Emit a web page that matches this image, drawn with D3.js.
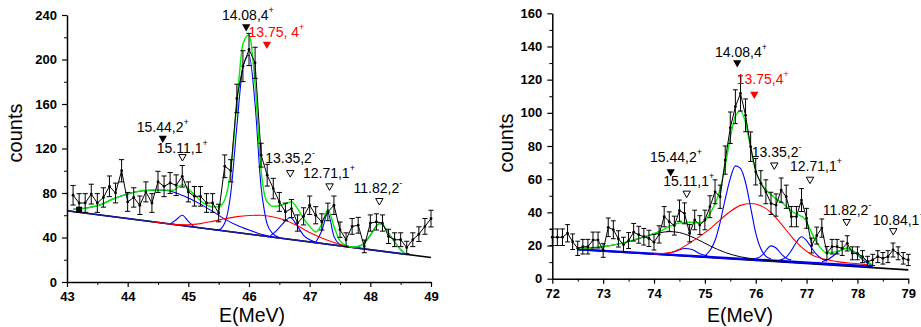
<!DOCTYPE html>
<html><head><meta charset="utf-8">
<script src="https://cdn.jsdelivr.net/npm/d3@7"></script>
<style>
body{margin:0;background:#fff}
svg{display:block}
text{font-family:Arial,"Liberation Sans",sans-serif}
</style>
</head><body>
<svg id="chart" width="921" height="327"></svg>
<script>
// ---------------- LEFT PANEL DATA ----------------
const leftE = [43.1,43.2,43.3,43.4,43.5,43.6,43.7,43.8,43.9,44.0,44.1,44.2,44.3,44.4,44.5,44.6,44.7,44.8,44.9,45.0,
  45.1,45.2,45.3,45.4,45.5,45.6,45.7,45.8,45.9,46.0,46.1,46.2,46.3,46.4,46.5,46.6,46.7,46.8,46.9,47.0,
  47.1,47.2,47.3,47.4,47.5,47.6,47.7,47.8,47.9,48.0,48.1,48.2,48.3,48.4,48.5,48.6,48.7,48.8,48.9,49.0];
const leftCounts = [78,71,71,79,71,76,86,80,100,72,76,69,81,71,90,86,89,87,95,81,
  77,77,71,71,62,104,100,165,194,209,197,114,96,84,72,63,66,53,59,69,
  60,54,63,69,47,38,50,51,32,53,54,53,41,38,38,31,38,43,50,57];
const leftErr = [8.8,8.4,8.4,8.9,8.4,8.7,9.3,8.9,10,8.5,8.7,8.3,9,8.4,9.5,9.3,9.4,9.3,9.7,9,
  8.8,8.8,8.4,8.4,7.9,10.2,10,12.8,13.9,14.5,14,10.7,9.8,9.2,8.5,7.9,8.1,7.3,7.7,8.3,
  7.7,7.3,7.9,8.3,6.9,6.2,7.1,7.1,5.7,7.3,7.3,7.3,6.4,6.2,6.2,5.6,6.2,6.6,7.1,7.5];
const leftBgBlack = [[43.0,64],[49.0,22]];
const leftBgBlue = [[43.0,64],[48.6,24.8]];
const leftGreen = [[43.1,65.4],[43.3,66.3],[43.5,68.5],[43.8,75.5],[44.1,80.6],[44.4,82.7],[44.6,82.7],[44.75,82.5],
  [44.9,87.5],[45.05,81],[45.25,71],[45.4,67.5],[45.5,67.5],[45.6,74],[45.7,101],[45.8,160],[45.9,214],[46.0,222],
  [46.1,178],[46.2,100],[46.25,80],[46.3,72],[46.4,68],[46.5,68.5],[46.6,70.5],[46.7,72],[46.8,66],[46.9,57],[47.0,50],
  [47.1,45],[47.2,52],[47.3,65],[47.4,50],[47.5,37],[47.6,33],[47.7,31.5],[47.8,31.8],[47.9,35],[48.0,42],[48.1,50],
  [48.15,52.5],[48.2,51.5],[48.3,44],[48.4,36],[48.5,29],[48.58,25.2]];
const leftRed = [[44.4,54.2],[44.6,52.8],[44.8,51.6],[45.0,51.5],[45.2,52.5],[45.4,54.5],[45.6,56.8],[45.8,58.8],[46.0,59.8],
  [46.2,60],[46.4,58.5],[46.6,55.5],[46.8,50.5],[47.0,44.5],[47.2,39.5],[47.4,35.5],[47.6,32.5],[47.8,30.6]];
const leftBlueBroad = [[43.1,65.4],[43.3,66.3],[43.5,68.5],[43.8,75.5],[44.1,80.6],[44.4,82.5],[44.6,82.5],[44.8,80],
  [45.0,75.5],[45.2,70],[45.4,63.5],[45.6,56.5],[45.8,51],[46.0,46.7],[46.2,43],[46.4,40.5]];
const leftBlue1 = [[44.7,52.1],[44.8,56],[44.9,60],[45.0,54.5],[45.1,49.3]];
const leftBlue2 = [[45.4,47.2],[45.5,47],[45.6,53],[45.7,80],[45.8,140],[45.9,193],[46.0,204],[46.1,160],[46.2,85],
  [46.25,65],[46.3,52],[46.4,43],[46.5,40]];
const leftBlue3 = [[46.35,41.5],[46.45,46],[46.55,52],[46.68,58],[46.8,50],[46.9,42],[47.0,38],[47.12,35.5]];
const leftBlue4 = [[47.1,35.5],[47.2,46],[47.3,62],[47.4,41],[47.5,33.5]];
const leftBlue5 = [[47.6,31.8],[47.7,31.2],[47.8,32],[47.9,35],[48.0,42],[48.1,50.5],[48.15,52.5],[48.2,51.5],
  [48.3,44],[48.4,36],[48.5,29],[48.58,25]];
const leftSquare = [[43.2,65]];
const leftYTicks = [0,40,80,120,160,200,240];
const leftYMinor = [20,60,100,140,180,220];
const leftXTicks = [43,44,45,46,47,48,49];
const leftXMinor = [43.5,44.5,45.5,46.5,47.5,48.5];
// label: text, superscript, text position, triangle position, marker kind
const leftLabels = ["14.08,4","13.75, 4","15.44,2","15.11,1","13.35,2","12.71,1","11.82,2"];
const leftSup = ["+","+","+","+","-","+","-"];
const leftLabelE = [45.553,45.992,44.150,44.480,46.267,46.889,47.724];
const leftLabelV = [235.5,220.5,135.1,116.2,106.7,93.2,79.7];
const leftTriE = [45.954,46.295,44.579,44.903,46.680,47.328,48.149];
const leftTriV = [229.5,213.7,129.2,112.6,98.2,86.3,73.1];
const leftKind = ["black","red","black","open","open","open","open"];

// ---------------- RIGHT PANEL DATA ----------------
const rightE = [72.0,72.1,72.2,72.3,72.4,72.5,72.6,72.7,72.8,72.9,73.0,73.1,73.2,73.3,73.4,73.5,73.6,73.7,73.8,73.9,
  74.0,74.1,74.2,74.3,74.4,74.5,74.6,74.7,74.8,74.9,75.0,75.1,75.2,75.3,75.4,75.5,75.6,75.7,75.8,75.9,
  76.0,76.1,76.2,76.3,76.4,76.5,76.6,76.7,76.8,76.9,77.0,77.1,77.2,77.3,77.4,77.5,77.6,77.7,77.8,77.9,
  78.0,78.1,78.2,78.3,78.4,78.5,78.6,78.7,78.8,78.9,79.0];
const rightCounts = [25,25,25,27.4,22.3,18.3,19.3,19.3,23.3,23.3,17,31,29.5,24,20.5,23,28,26.5,25.3,24.3,
  22,26.7,37.4,34.4,32,41,39.4,27.4,35.4,32.3,35.4,43.4,52.4,49.4,71.5,91,103.7,111.7,98.5,79.6,
  64.5,57.5,52.4,45.4,44.4,53.4,49.4,37.4,37.4,47.4,36.4,20,26,30.5,15.5,19.3,19.3,18.3,21.3,15.3,
  15.3,13.3,10.3,11.3,13.3,12.3,13.3,17.3,15.3,12.3,11.3];
const rightErr = [5,5,5,5.2,4.7,4.3,4.4,4.4,4.8,4.8,4.1,5.6,5.4,4.9,4.5,4.8,5.3,5.1,5,4.9,
  4.7,5.2,6.1,5.9,5.7,6.4,6.3,5.2,5.9,5.7,5.9,6.6,7.2,7,8.5,9.5,10.2,10.6,9.9,8.9,
  8,7.6,7.2,6.7,6.7,7.3,7,6.1,6.1,6.9,6,4.5,5.1,5.5,3.9,4.4,4.4,4.3,4.6,3.9,
  3.9,3.6,3.2,3.4,3.6,3.5,3.6,4.2,3.9,3.5,3.4];
const rightBgBlack = [[72.5,17.7],[79.0,5.3]];
const rightBgBlue = [[72.5,17.7],[78.3,7.4]];
const rightBlackBroad = [[72.5,18.3],[73.0,19.3],[73.3,20.9],[73.6,23.2],[73.9,26],[74.1,27.6],[74.3,28.4],[74.5,27.8],
  [74.8,24.5],[75.1,19.8],[75.4,15.8],[75.7,13.2],[76.0,11.8],[76.4,10.8],[76.8,10.1]];
const rightGreen = [[72.5,18.3],[72.8,18.8],[73.0,19.3],[73.3,21],[73.6,23.4],[73.9,26.3],[74.1,28.3],[74.3,31.5],
  [74.5,33.6],[74.7,34],[74.9,33.7],[75.0,35],[75.1,39.4],[75.2,45],[75.3,54],[75.4,68],[75.5,85],[75.6,98],
  [75.7,101],[75.8,94],[75.9,79],[76.0,65],[76.15,55.5],[76.35,49.4],[76.55,45],[76.75,39.8],[76.85,38.3],[76.95,36.5],
  [77.05,31],[77.15,24.5],[77.25,19.5],[77.4,15.5],[77.6,16.5],[77.8,18.5],[78.0,15],[78.2,10.3],[78.3,8.2]];
const rightRed = [[74.0,14.9],[74.3,15.6],[74.5,17.8],[74.7,21.5],[74.9,25.5],[75.1,30],[75.3,35.5],[75.5,40.5],
  [75.7,44.2],[75.9,45.3],[76.1,44],[76.3,40],[76.5,33],[76.7,25.5],[76.9,19],[77.1,14.5],[77.3,12.2],[77.6,10.3],
  [77.9,9.3],[78.2,8.5]];
const rightBlue1 = [[74.2,14.9],[74.4,16.2],[74.6,18.2],[74.75,17.6],[74.9,15],[75.05,13.8]];
const rightBlue2 = [[75.0,13.8],[75.1,17],[75.2,23],[75.3,34],[75.4,48],[75.5,60.5],[75.6,68],[75.7,66.5],[75.8,58],
  [75.9,43],[76.0,27.5],[76.1,18],[76.2,13.5],[76.3,12]];
const rightBlue3 = [[75.95,12],[76.05,12.6],[76.15,15],[76.3,19.8],[76.4,18.5],[76.5,15],[76.6,12.3],[76.7,11.2]];
const rightBlue4 = [[76.45,11],[76.6,13],[76.7,17],[76.8,22],[76.9,25.3],[77.0,23],[77.1,18.5],[77.2,14.5],[77.3,12],[77.4,10.5]];
const rightBlue5 = [[77.3,10.2],[77.4,11.2],[77.5,13.2],[77.6,15.8],[77.7,17.6],[77.8,18.3],[77.9,17],[78.0,14.5],
  [78.1,11.5],[78.2,9.3],[78.3,8]];
const rightYTicks = [0,20,40,60,80,100,120,140,160];
const rightYMinor = [10,30,50,70,90,110,130,150];
const rightXTicks = [72,73,74,75,76,77,78,79];
const rightXMinor = [72.5,73.5,74.5,75.5,76.5,77.5,78.5];
const rightLabels = ["14.08,4","13.75,4","15.44,2","15.11,1","13.35,2","12.71,1","11.82,2","10.84,1"];
const rightSup = ["+","+","+","+","-","+","-","+"];
const rightLabelE = [75.199,75.626,73.921,74.182,75.921,76.674,77.317,78.300];
const rightLabelV = [133.5,117.2,70.5,55.9,73.5,65.1,38.4,32.4];
const rightTriE = [75.637,75.972,74.328,74.643,76.365,77.067,77.788,78.705];
const rightTriV = [130.2,111.2,64.5,51.5,68.5,59.9,34.4,28.9];
const rightKind = ["black","red","black","open","open","open","open","open"];

const GREEN = "#00ee00", BLUE = "#0000ff", RED = "#ff0000";
const svg = d3.select("#chart");

function panel(cfg) {
  const g = svg.append("g");
  const x = d3.scaleLinear().domain(cfg.xDom).range(cfg.xRange);
  const y = d3.scaleLinear().domain(cfg.yDom).range(cfg.yRange);
  const curve = d3.line().x(d => x(d[0])).y(d => y(d[1])).curve(d3.curveMonotoneX);
  const straight = d3.line().x(d => x(d[0])).y(d => y(d[1]));

  // background lines
  g.append("path").attr("d", straight(cfg.bgBlack)).attr("fill","none").attr("stroke","#000").attr("stroke-width",1.6);
  g.append("path").attr("d", straight(cfg.bgBlue)).attr("fill","none").attr("stroke",cfg.bgBlueColor).attr("stroke-width",cfg.bgBlueWidth);

  // fit components
  (cfg.blackCurves || []).forEach(c => g.append("path").attr("d", curve(c)).attr("fill","none").attr("stroke","#000").attr("stroke-width",1));
  cfg.blueCurves.forEach(c => g.append("path").attr("d", curve(c)).attr("fill","none").attr("stroke",BLUE).attr("stroke-width",1.1));
  g.append("path").attr("d", curve(cfg.red)).attr("fill","none").attr("stroke",RED).attr("stroke-width",1.1);
  g.append("path").attr("d", curve(cfg.green)).attr("fill","none").attr("stroke",GREEN).attr("stroke-width",1.4);

  // data
  const pts = cfg.E.map((e,i) => [e, cfg.counts[i], cfg.err[i]]);
  g.append("path").attr("d", straight(pts)).attr("fill","none").attr("stroke","#000").attr("stroke-width",1);
  const eb = g.append("g").attr("stroke","#000").attr("stroke-width",1);
  pts.forEach(p => {
    const px = x(p[0]), top = y(p[1]+p[2]), bot = y(p[1]-p[2]);
    eb.append("line").attr("x1",px).attr("x2",px).attr("y1",top).attr("y2",bot);
    eb.append("line").attr("x1",px-cfg.cap).attr("x2",px+cfg.cap).attr("y1",top).attr("y2",top);
    eb.append("line").attr("x1",px-cfg.cap).attr("x2",px+cfg.cap).attr("y1",bot).attr("y2",bot);
  });
  g.selectAll(null).data(pts).join("circle").attr("cx",d=>x(d[0])).attr("cy",d=>y(d[1])).attr("r",1.4).attr("fill","#000");
  (cfg.squares || []).forEach(s => g.append("rect").attr("x",x(s[0])-3).attr("y",y(s[1])-3).attr("width",6).attr("height",6).attr("fill","#000"));

  // axes
  const x0 = cfg.xRange[0], y0 = cfg.yRange[0];
  const styleAxis = sel => {
    sel.select(".domain").attr("stroke","#000").attr("stroke-width",1.5);
    sel.selectAll(".tick line").attr("stroke","#000").attr("stroke-width",1.2);
    sel.selectAll(".tick text").attr("font-size",13).attr("font-weight","bold").attr("fill","#000")
      .attr("font-family","Arial, 'Liberation Sans', sans-serif");
  };
  g.append("g").attr("transform",`translate(${x0},0)`)
    .call(d3.axisLeft(y).tickValues(cfg.yMinor).tickSize(3).tickFormat("").tickSizeOuter(0))
    .call(s => { s.select(".domain").remove(); s.selectAll("line").attr("stroke","#000").attr("stroke-width",1); });
  g.append("g").attr("transform",`translate(0,${y0})`)
    .call(d3.axisBottom(x).tickValues(cfg.xMinor).tickSize(3).tickFormat("").tickSizeOuter(0))
    .call(s => { s.select(".domain").remove(); s.selectAll("line").attr("stroke","#000").attr("stroke-width",1); });
  g.append("g").attr("transform",`translate(${x0},0)`)
    .call(d3.axisLeft(y).tickValues(cfg.yTicks).tickSize(5).tickPadding(5).tickSizeOuter(0).tickFormat(d3.format("d")))
    .call(styleAxis);
  g.append("g").attr("transform",`translate(0,${y0})`)
    .call(d3.axisBottom(x).tickValues(cfg.xTicks).tickSize(5).tickPadding(5).tickSizeOuter(0).tickFormat(d3.format("d")))
    .call(styleAxis);

  // axis titles
  g.append("text").attr("transform",`translate(${cfg.yTitle[0]},${cfg.yTitle[1]}) rotate(-90)`)
    .attr("text-anchor","middle").attr("font-size",20).attr("fill","#000").text("counts");
  g.append("text").attr("x",cfg.xTitle[0]).attr("y",cfg.xTitle[1])
    .attr("text-anchor","middle").attr("font-size",19.5).attr("fill","#000").text("E(MeV)");

  // annotations
  cfg.labels.forEach((t,i) => {
    const col = cfg.kind[i] === "red" ? RED : "#000";
    const tx = g.append("text").attr("x", x(cfg.labelE[i])).attr("y", y(cfg.labelV[i]))
      .attr("font-size",14).attr("fill",col);
    tx.append("tspan").text(t);
    tx.append("tspan").attr("dy",-7).attr("font-size",9).text(cfg.sup[i]);
    const sym = d3.symbol(d3.symbolTriangle).size(cfg.kind[i] === "open" ? 24 : 30)();
    const tri = g.append("path").attr("d", sym)
      .attr("transform", `translate(${x(cfg.triE[i])},${y(cfg.triV[i])}) rotate(180)`);
    if (cfg.kind[i] === "open") tri.attr("fill","#fff").attr("stroke","#000").attr("stroke-width",1);
    else tri.attr("fill", col);
  });
}

panel({
  xDom:[43,49], xRange:[67,431], yDom:[0,240], yRange:[282,15],
  E:leftE, counts:leftCounts, err:leftErr, cap:2.6,
  bgBlack:leftBgBlack, bgBlue:leftBgBlue, bgBlueColor:"#1a1aa0", bgBlueWidth:1.6,
  blueCurves:[leftBlueBroad,leftBlue1,leftBlue2,leftBlue3,leftBlue4,leftBlue5],
  red:leftRed, green:leftGreen, squares:leftSquare,
  yTicks:leftYTicks, yMinor:leftYMinor, xTicks:leftXTicks, xMinor:leftXMinor,
  yTitle:[22,133], xTitle:[252,322],
  labels:leftLabels, sup:leftSup, labelE:leftLabelE, labelV:leftLabelV, triE:leftTriE, triV:leftTriV, kind:leftKind
});

panel({
  xDom:[72,79], xRange:[552.3,908.3], yDom:[0,160], yRange:[278.7,13.3],
  E:rightE, counts:rightCounts, err:rightErr, cap:2.4,
  bgBlack:rightBgBlack, bgBlue:rightBgBlue, bgBlueColor:BLUE, bgBlueWidth:2.4,
  blackCurves:[rightBlackBroad],
  blueCurves:[rightBlue1,rightBlue2,rightBlue3,rightBlue4,rightBlue5],
  red:rightRed, green:rightGreen,
  yTicks:rightYTicks, yMinor:rightYMinor, xTicks:rightXTicks, xMinor:rightXMinor,
  yTitle:[513,143], xTitle:[740,322],
  labels:rightLabels, sup:rightSup, labelE:rightLabelE, labelV:rightLabelV, triE:rightTriE, triV:rightTriV, kind:rightKind
});
</script>
</body></html>
